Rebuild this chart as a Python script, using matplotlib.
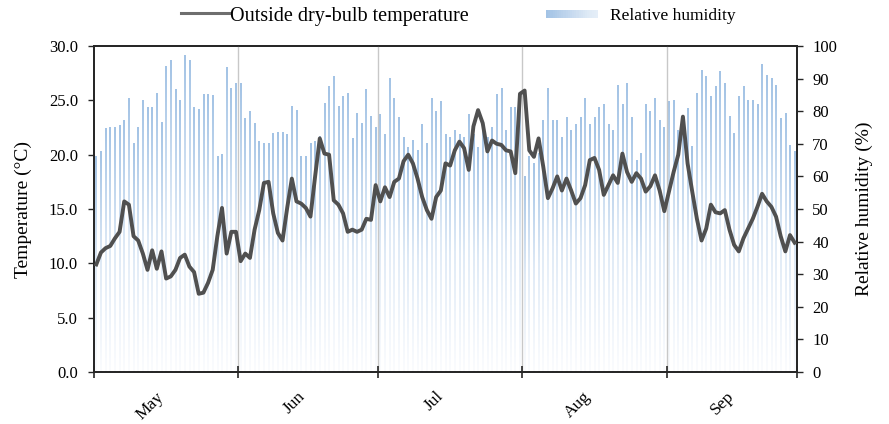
import numpy as np
import matplotlib
matplotlib.use("Agg")
import matplotlib.pyplot as plt
from matplotlib.colors import LinearSegmentedColormap
from matplotlib.lines import Line2D
from matplotlib.patches import Rectangle
from matplotlib.legend_handler import HandlerBase
from matplotlib.ticker import FormatStrFormatter

plt.rcParams['font.family'] = ['Liberation Serif', 'DejaVu Serif']

# daily outside dry-bulb temperature (°C), 1 May .. 28 Sep
temp_may = [9.9, 11.0, 11.4, 11.6, 12.3, 12.9, 15.7, 15.4, 12.5, 12.1, 10.9, 9.4, 11.2, 9.5, 11.1, 8.6,
            8.8, 9.4, 10.5, 10.8, 9.7, 9.2, 7.2, 7.3, 8.2, 9.4, 12.5, 15.1, 10.9, 12.9, 12.9]
temp_jun = [10.2, 10.9, 10.5, 13.1, 14.9, 17.4, 17.5, 14.6, 12.8, 12.1, 15.1, 17.8, 15.7, 15.5, 15.1,
            14.3, 18.0, 21.5, 20.1, 20.0, 15.8, 15.4, 14.6, 12.9, 13.1, 12.9, 13.1, 14.1, 14.0, 17.2]
temp_jul = [15.7, 17.0, 16.1, 17.5, 17.8, 19.4, 20.0, 19.2, 17.8, 16.1, 14.9, 14.1, 16.1, 16.7, 19.2,
            19.0, 20.4, 21.2, 20.6, 18.6, 22.6, 24.1, 22.9, 20.3, 21.3, 21.0, 20.9, 20.4, 20.3, 18.3, 25.6]
temp_aug = [25.9, 20.4, 19.8, 21.5, 18.9, 16.0, 16.9, 18.0, 16.7, 17.8, 16.7, 15.5, 16.0, 17.2, 19.5,
            19.7, 18.6, 16.3, 17.2, 18.1, 17.4, 20.1, 18.4, 17.5, 18.3, 17.8, 16.6, 17.1, 18.1, 16.7, 14.8]
temp_sep = [16.6, 18.4, 20.0, 23.5, 19.2, 16.6, 14.1, 12.1, 13.2, 15.4, 14.7, 14.6, 14.9, 13.1,
            11.7, 11.1, 12.3, 13.2, 14.1, 15.2, 16.4, 15.7, 15.2, 14.3, 12.5, 11.1, 12.6, 11.9]

# daily relative humidity (%)
rh_may = [66, 67.6, 74.7, 75, 75, 75.5, 77, 84, 70, 75, 83.4, 81, 81, 85.5, 76.5, 93.7, 95.7, 86.5,
          83.4, 97, 95.7, 81, 80.6, 85, 85, 84.7, 66, 66.6, 93.5, 87, 88.5]
rh_jun = [88.5, 77.8, 79.9, 76.3, 70.7, 70.1, 70.1, 73.2, 73.4, 73.4, 73, 81.4, 80.2, 66, 66, 70.1,
          70.7, 72.2, 82.4, 87.5, 90.6, 81.4, 84.5, 85.5, 71.7, 79.3, 76.3, 86.7, 78.3, 75]
rh_jul = [79, 73, 90, 84, 78, 72, 69, 71, 68, 76, 70, 84, 80, 83, 73, 72, 74, 73, 72, 79, 73, 69,
          76, 72, 75, 85, 87, 74, 81, 81, 81]
rh_aug = [60, 66, 64, 67, 77, 87, 77, 77, 72, 78, 74, 76, 78, 84, 76, 78, 81, 82, 76, 74, 88, 82,
          88.5, 78, 65, 67, 82, 80, 84, 77, 75]
rh_sep = [82.9, 83.4, 74, 78.3, 80.9, 69.1, 85.5, 92.6, 90.6, 84.5, 87.5, 92.1, 88.5, 78.3, 73.2,
          84.5, 87.5, 83.4, 83.4, 81.9, 94.2, 91.1, 90.1, 88, 77.8, 79.3, 69.6, 67.6]

months = ["May", "Jun", "Jul", "Aug", "Sep"]
month_days = [31, 30, 31, 31, 28]   # series stops on 28 Sep

temp = np.array(temp_may + temp_jun + temp_jul + temp_aug + temp_sep)
rh = np.array(rh_may + rh_jun + rh_jul + rh_aug + rh_sep)
N = len(temp)
x = np.arange(N) + 0.5
starts = np.concatenate([[0], np.cumsum(month_days)])

bar_cmap = LinearSegmentedColormap.from_list(
    "rh", [(0.0, "#fbfcfe"), (0.5, "#dfeaf6"), (1.0, "#a3c3e5")])


class GradHandler(HandlerBase):
    """legend key drawn as a horizontal blue fade"""
    def create_artists(self, legend, orig_handle, xdescent, ydescent, width, height, fontsize, trans):
        n = 24
        h = height * 0.7
        out = []
        for k in range(n):
            c = bar_cmap(1.0 - 0.6 * k / (n - 1))
            out.append(Rectangle((-xdescent + k * width / n, -ydescent + (height - h) / 2),
                                 width / n * 1.05, h, facecolor=c, edgecolor="none", transform=trans))
        return out


fig = plt.figure(figsize=(8.89, 4.24), dpi=100)
ax = fig.add_axes([0.1057, 0.1226, 0.7908, 0.7689])
ax2 = ax.twinx()
ax.set_zorder(ax2.get_zorder() + 1)
ax.patch.set_visible(False)

# humidity bars with a vertical gradient, one image per bar
grad = np.linspace(0, 1, 256).reshape(-1, 1)
bars = ax2.bar(x, rh, width=0.36, color="none", edgecolor="none")
for b in bars:
    ax2.imshow(grad, extent=(b.get_x(), b.get_x() + b.get_width(), 0, b.get_height()),
               origin="lower", cmap=bar_cmap, aspect="auto", interpolation="bilinear", zorder=1)
ax2.set_xlim(0, N)
ax2.set_ylim(0, 100)
ax2.set_yticks(np.arange(0, 101, 10))

for s in starts[1:-1]:
    ax.axvline(s, color="#c8c8c8", lw=1.0, zorder=0.5)

ax.plot(x, temp, color="#505050", lw=2.8, solid_joinstyle="round", zorder=3)
ax.set_xlim(0, N)
ax.set_ylim(0, 30)
ax.set_yticks(np.arange(0, 30.1, 5))
ax.yaxis.set_major_formatter(FormatStrFormatter("%.1f"))

ax.set_xticks(starts)
ax.set_xticklabels([])
ax.set_xticks(starts[:-1] + 12, minor=True)
ax.set_xticklabels(months, minor=True, rotation=45, ha="center")
ax.tick_params(axis="x", which="major", direction="inout", length=8, width=1.2, color="#262626")
ax.tick_params(axis="x", which="minor", length=0, pad=12, labelsize=12.5)
ax.tick_params(axis="y", direction="out", length=4, width=1.0, pad=7.5, labelsize=12, color="#262626")
ax2.tick_params(axis="y", direction="out", length=4, width=1.0, pad=7, labelsize=12, color="#262626")

ax.set_ylabel("Temperature (°C)", fontsize=14, labelpad=12)
ax2.set_ylabel("Relative humidity (%)", fontsize=14, labelpad=13)

for a in (ax, ax2):
    for sp in a.spines.values():
        sp.set_color("#262626")
        sp.set_linewidth(1.3)

# legend: two single-entry keys placed along the top edge
line_h = Line2D([], [], color="#6e6e6e", lw=2.2)
grad_h = Rectangle((0, 0), 1, 1)
fig.legend([line_h], ["Outside dry-bulb temperature"], loc="center left",
           bbox_to_anchor=(181 / 889, 1 - 16 / 424), frameon=False, fontsize=14.5,
           borderpad=0, borderaxespad=0, handlelength=2.4, handletextpad=0.05)
fig.legend([grad_h], ["Relative humidity"], loc="center left",
           bbox_to_anchor=(546 / 889, 1 - 16 / 424), frameon=False, fontsize=12.5,
           borderpad=0, borderaxespad=0, handlelength=3.0, handletextpad=0.7,
           handler_map={grad_h: GradHandler()})

fig.savefig("out.png", dpi=100)
